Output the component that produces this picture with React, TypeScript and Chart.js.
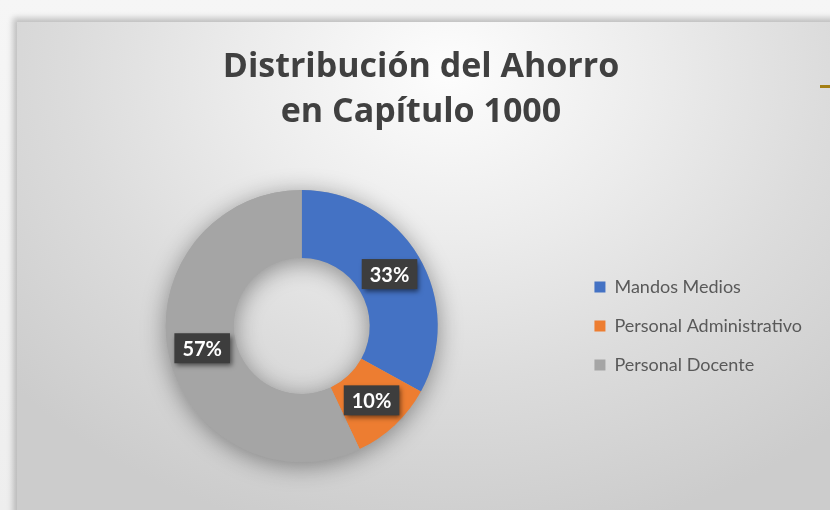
import React, { useEffect, useRef } from "react";
import { Chart, registerables } from "chart.js";

Chart.register(...registerables);

const titleLines = ["Distribución del Ahorro", "en Capítulo 1000"];
const categories = ["Mandos Medios", "Personal Administrativo", "Personal Docente"];
const shares = [33, 10, 57];
const sliceColors = ["#4472c4", "#ed7d31", "#a5a5a5"];

const ringShadow = {
  id: "ringShadow",
  beforeDatasetsDraw(chart: any) {
    const meta = chart.getDatasetMeta(0);
    const arc = meta.data[0];
    if (!arc) return;
    const { x, y, innerRadius, outerRadius } = arc.getProps(["x", "y", "innerRadius", "outerRadius"], true);
    const ctx = chart.ctx;
    ctx.save();
    ctx.shadowColor = "rgba(0,0,0,0.4)";
    ctx.shadowBlur = 24;
    ctx.shadowOffsetX = 0;
    ctx.shadowOffsetY = 4;
    ctx.fillStyle = "#a5a5a5";
    ctx.beginPath();
    ctx.arc(x, y, outerRadius, 0, Math.PI * 2);
    ctx.arc(x, y, innerRadius, 0, Math.PI * 2, true);
    ctx.closePath();
    ctx.fill();
    ctx.restore();
  },
};

const boxLabels = {
  id: "boxLabels",
  afterDatasetsDraw(chart: any) {
    const ctx = chart.ctx;
    const meta = chart.getDatasetMeta(0);
    const data = chart.data.datasets[0].data as number[];
    const total = data.reduce((a, b) => a + b, 0);
    meta.data.forEach((el: any, i: number) => {
      const p = el.getProps(["x", "y", "startAngle", "endAngle", "innerRadius", "outerRadius"], true);
      const ang = (p.startAngle + p.endAngle) / 2;
      const r = (p.innerRadius + p.outerRadius) / 2;
      const cx = p.x + Math.cos(ang) * r;
      const cy = p.y + Math.sin(ang) * r;
      const text = Math.round((data[i] / total) * 100) + "%";
      ctx.save();
      ctx.font = "bold 20px Lato";
      const tw = ctx.measureText(text).width;
      const w = tw + 16;
      const h = 30;
      ctx.shadowColor = "rgba(0,0,0,0.55)";
      ctx.shadowBlur = 5;
      ctx.shadowOffsetX = 2;
      ctx.shadowOffsetY = 3;
      ctx.fillStyle = "#3d3d3d";
      ctx.fillRect(cx - w / 2, cy - h / 2, w, h);
      ctx.shadowColor = "transparent";
      ctx.fillStyle = "#ffffff";
      ctx.textAlign = "center";
      ctx.textBaseline = "middle";
      ctx.fillText(text, cx, cy + 1);
      ctx.restore();
    });
  },
};

export default function App() {
  const canvasRef = useRef<HTMLCanvasElement | null>(null);

  useEffect(() => {
    if (!canvasRef.current) return;
    const chart = new Chart(canvasRef.current, {
      type: "doughnut",
      data: {
        labels: categories,
        datasets: [
          {
            data: shares,
            backgroundColor: sliceColors,
            borderWidth: 0,
            hoverOffset: 0,
          },
        ],
      },
      options: {
        responsive: false,
        animation: false,
        cutout: "50%",
        layout: { padding: { left: 30, right: 18, top: 0, bottom: 48 } },
        plugins: {
          tooltip: { enabled: false },
          title: {
            display: true,
            text: titleLines,
            color: "#404040",
            font: { family: "'Open Sans'", size: 34, weight: "bold", lineHeight: 1.3235 },
            padding: { top: 45, bottom: 55 },
          },
          legend: {
            position: "right",
            fullSize: false,
            align: "center",
            labels: {
              color: "#595959",
              font: { family: "Lato", size: 18 },
              boxWidth: 11,
              boxHeight: 11,
              padding: 21,
            },
          },
        },
      },
      plugins: [ringShadow, boxLabels],
    });
    return () => chart.destroy();
  }, []);

  return (
    <div
      style={{
        position: "fixed",
        left: 0,
        top: 0,
        width: 830,
        height: 510,
        overflow: "hidden",
        background: "linear-gradient(180deg, #f6f6f6 0%, #eeeeee 100%)",
      }}
    >
      <div
        style={{
          position: "absolute",
          left: 17,
          top: 22,
          width: 830,
          height: 500,
          background:
            "radial-gradient(ellipse 70% 95% at 52% 10%, #fdfdfd 0%, #ececec 35%, #dcdcdc 65%, #cccccc 100%)",
          boxShadow: "-3px -3px 6px 1px rgba(0,0,0,0.22)",
        }}
      />
      <div
        style={{
          position: "absolute",
          left: 820,
          top: 85,
          width: 12,
          height: 3,
          background: "#a47f14",
        }}
      />
      <canvas
        ref={canvasRef}
        width={830}
        height={510}
        style={{ position: "absolute", left: 0, top: 0, width: 830, height: 510 }}
      />
    </div>
  );
}
